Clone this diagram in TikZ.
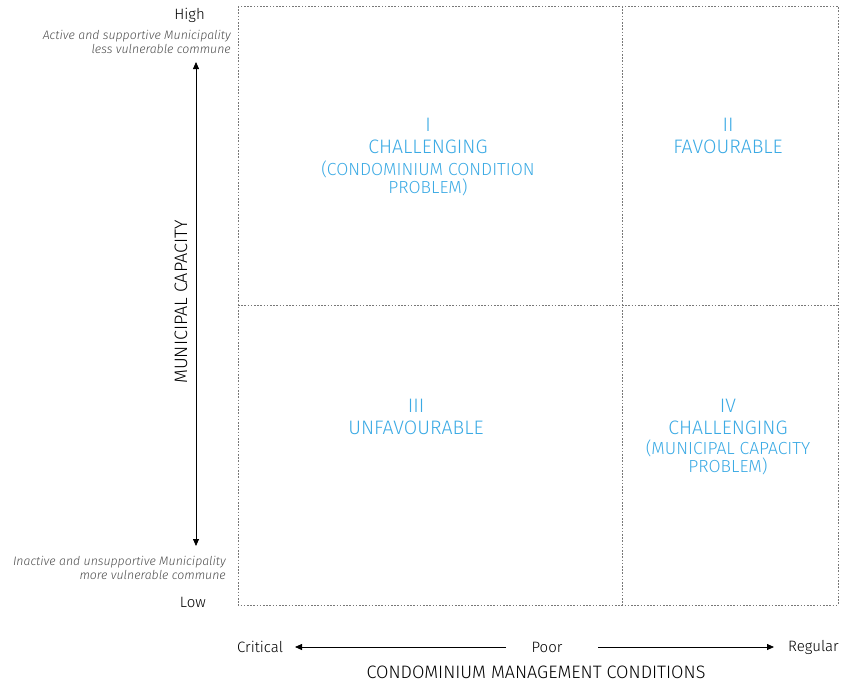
\documentclass[tikz,border=0pt]{standalone}
\usepackage{fontspec}
\setmainfont{Fira Sans Light}
\usetikzlibrary{arrows.meta}
\definecolor{qblue}{RGB}{59,170,228}
\definecolor{dotgray}{RGB}{120,120,120}
\begin{document}
\begin{tikzpicture}[x=1pt,y=-1pt,
  grid/.style={draw=dotgray,line width=0.8pt,dash pattern=on 1.6pt off 1.6pt},
  big/.style={text=qblue,font=\fontsize{19.5}{22}\selectfont,inner sep=0pt},
  small/.style={text=qblue,font=\fontsize{17.5}{20}\selectfont,inner sep=0pt},
  lab/.style={font=\fontsize{15}{17}\selectfont,inner sep=0pt},
  caps/.style={font=\fontsize{18}{20}\selectfont,inner sep=0pt},
  itl/.style={font=\itshape\fontsize{12.3}{14}\selectfont,inner sep=0pt,align=right},
  axarr/.style={line width=0.8pt,-{Triangle[length=7pt,width=6pt]}}]
\useasboundingbox (0,0) rectangle (841,683);
\draw[grid] (238,6) rectangle (838,605);
\draw[grid] (622,6) -- (622,605);
\draw[grid] (238,305) -- (838,305);
% quadrant texts
\node[big] (q1a) at (428,125) {I};
\node[big] (q1b) at (428,147) {CHALLENGING};
\node[small] (q1c) at (428,169) {(CONDOMINIUM CONDITION};
\node[small] (q1d) at (428,187) {PROBLEM)};
\node[big] (q2a) at (728,125) {II};
\node[big] (q2b) at (728,147) {FAVOURABLE};
\node[big] (q3a) at (416,406) {III};
\node[big] (q3b) at (416,428) {UNFAVOURABLE};
\node[big] (q4a) at (728,406) {IV};
\node[big] (q4b) at (728,428) {CHALLENGING};
\node[small] (q4c) at (728,448) {(MUNICIPAL CAPACITY};
\node[small] (q4d) at (728,466) {PROBLEM)};
% vertical axis
\node[lab,anchor=east] (high) at (205,15) {High};
\node[itl,anchor=north east,text=black!70] (hi2) at (231,30) {Active and supportive Municipality\\less vulnerable commune};
\node[itl,anchor=north east,text=black!70] (lo2) at (226,556) {Inactive and unsupportive Municipality\\more vulnerable commune};
\node[lab,anchor=east] (low) at (206,602) {Low};
\coordinate (vt) at (196,62);
\coordinate (vb) at (196,546);
\draw[axarr] (196,300) -- (vt);
\draw[axarr] (196,300) -- (vb);
\node[caps,rotate=90] (mc) at (181,302) {MUNICIPAL CAPACITY};
% horizontal axis
\node[lab,anchor=west] (crit) at (237,647) {Critical};
\node[lab] (poor) at (547,647) {Poor};
\node[lab,anchor=east] (reg) at (839,647) {Regular};
\coordinate (hl) at (295,647);
\coordinate (hr) at (774,647);
\coordinate (hl0) at (506,647);
\coordinate (hr0) at (598,647);
\draw[axarr] (hl0) -- (hl);
\draw[axarr] (hr0) -- (hr);
\node[caps] (cmc) at (536,672) {CONDOMINIUM MANAGEMENT CONDITIONS};
\end{tikzpicture}
\end{document}
